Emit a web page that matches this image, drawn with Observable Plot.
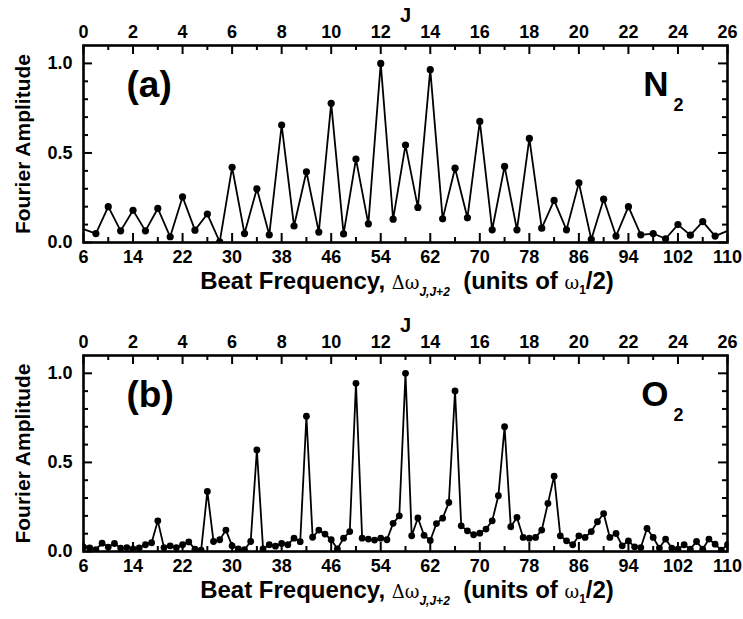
<!DOCTYPE html>
<html>
<head>
<meta charset="utf-8">
<script src="https://cdn.jsdelivr.net/npm/d3@7"></script>
<script src="https://cdn.jsdelivr.net/npm/@observablehq/plot@0.6"></script>
<style>
  body { margin: 0; background: #fff; }
  #chart { position: relative; width: 743px; height: 619px; overflow: hidden; background: #fff; }
  .panel { position: absolute; left: 0; }
  .xlab {
    position: absolute; left: 83px; width: 648px; text-align: center;
    font-family: "Liberation Sans", Arial, sans-serif; font-weight: bold; font-size: 24px;
    line-height: 18px; color: #000; white-space: nowrap;
  }
  .xlab .sym { font-weight: normal; font-size: 18px; font-family: "DejaVu Serif", "Liberation Serif", serif; }
  .xlab .sub { position: relative; top: 0.55em; font-size: 12px; font-weight: bold; font-style: italic; font-family: "Liberation Sans", Arial, sans-serif; }
  .xlab .sub1 { position: relative; top: 0.45em; font-size: 12px; font-weight: bold; font-family: "Liberation Sans", Arial, sans-serif; }
</style>
</head>
<body>
<div id="chart"></div>
<script>
// ---- axis tick values ----
const freqTicks = [6, 14, 22, 30, 38, 46, 54, 62, 70, 78, 86, 94, 102, 110];
const jMinor = [1, 3, 5, 7, 9, 11, 13, 15, 17, 19, 21, 23, 25];
const ampTicks = [0.0, 0.5, 1.0];
const ampMinor = [0.1, 0.2, 0.3, 0.4, 0.6, 0.7, 0.8, 0.9];

// ---- (a) N2 ----
const n2Freq = [6, 8, 10, 12, 14, 16, 18, 20, 22, 24, 26, 28, 30, 32, 34, 36, 38, 40, 42, 44, 46, 48, 50, 52, 54, 56,
                58, 60, 62, 64, 66, 68, 70, 72, 74, 76, 78, 80, 82, 84, 86, 88, 90, 92, 94, 96, 98, 100, 102, 104, 106, 108, 110];
const n2Amp = [0.075, 0.05, 0.20, 0.065, 0.18, 0.065, 0.19, 0.032, 0.255, 0.069, 0.159, 0.004, 0.42, 0.05, 0.30, 0.043,
               0.656, 0.092, 0.395, 0.058, 0.777, 0.048, 0.466, 0.104, 1.0, 0.13,
               0.544, 0.196, 0.965, 0.132, 0.415, 0.138, 0.676, 0.071, 0.425, 0.071, 0.581, 0.08, 0.235, 0.071,
               0.333, 0.017, 0.242, 0.036, 0.20, 0.043, 0.05, 0.021, 0.10, 0.041, 0.117, 0.036, 0.065];

// ---- (b) O2 ----
const o2Freq = [6, 7, 8, 9, 10, 11, 12, 13, 14, 15, 16, 17, 18, 19, 20, 21, 22, 23, 24, 25, 26, 27, 28, 29, 30, 31, 32,
                33, 34, 35, 36, 37, 38, 39, 40, 41, 42, 43, 44, 45, 46, 47, 48, 49, 50, 51, 52, 53, 54, 55, 56, 57, 58,
                59, 60, 61, 62, 63, 64, 65, 66, 67, 68, 69, 70, 71, 72, 73, 74, 75, 76, 77, 78, 79, 80, 81, 82, 83, 84,
                85, 86, 87, 88, 89, 90, 91, 92, 93, 94, 95, 96, 97, 98, 99, 100, 101, 102, 103, 104, 105, 106, 107, 108, 109, 110];
const o2Amp = [0.025, 0.02, 0.01, 0.047, 0.025, 0.045, 0.019, 0.022, 0.015, 0.02, 0.038, 0.049, 0.172,
               0.022, 0.032, 0.022, 0.038, 0.054, 0.013, 0.008, 0.337, 0.056, 0.066, 0.12, 0.032, 0.015, 0.01,
               0.056, 0.57, 0.015, 0.038, 0.03, 0.045, 0.038, 0.075, 0.055, 0.759, 0.08, 0.12, 0.098, 0.066, 0.015,
               0.075, 0.112, 0.944, 0.075, 0.07, 0.064, 0.075, 0.066, 0.158, 0.2, 1.0,
               0.088, 0.188, 0.091, 0.062, 0.157, 0.187, 0.275, 0.901, 0.144, 0.116, 0.094, 0.103, 0.126, 0.172,
               0.313, 0.70, 0.139, 0.191, 0.079, 0.075, 0.079, 0.12, 0.27, 0.423, 0.088, 0.06,
               0.038, 0.088, 0.079, 0.112, 0.167, 0.213, 0.079, 0.101, 0.032, 0.06, 0.026, 0.022, 0.129, 0.079,
               0.019, 0.07, 0.019, 0.013, 0.038, 0.013, 0.056, 0.013, 0.07, 0.041, 0.008, 0.038];

const W = 743, H = 309;
const mL = 83, mR = 16, mT = 45;
const jToFreq = j => 6 + 4 * j;
const tickFont = '"Liberation Sans Narrow", "Liberation Sans", Arial, sans-serif';
const mainFont = '"Liberation Sans", Arial, sans-serif';

function panel({freq, amp, tag, mol, mB, dotsAll, r}) {
  const data = freq.map((f, i) => ({f, a: amp[i]}));
  const dots = dotsAll ? data : data.filter(d => d.f > 6 && d.f < 110);
  const plotH = H - mT - mB, plotW = W - mL - mR;
  const ky = 1.1 / plotH, kx = 104 / plotW;
  const majL = 9, minL = 5;
  const minorX = jMinor.map(jToFreq);
  return Plot.plot({
    width: W, height: H,
    marginLeft: mL, marginRight: mR, marginTop: mT, marginBottom: mB,
    x: {domain: [6, 110]},
    y: {domain: [0, 1.1]},
    style: {fontFamily: mainFont, color: "#000", background: "#fff", overflow: "visible"},
    marks: [
      // inward ticks: bottom & top
      Plot.ruleX(freqTicks, {x: d => d, y1: 0, y2: majL * ky, stroke: "#000", strokeWidth: 2}),
      Plot.ruleX(minorX, {x: d => d, y1: 0, y2: minL * ky, stroke: "#000", strokeWidth: 2}),
      Plot.ruleX(freqTicks, {x: d => d, y1: 1.1, y2: 1.1 - majL * ky, stroke: "#000", strokeWidth: 2}),
      Plot.ruleX(minorX, {x: d => d, y1: 1.1, y2: 1.1 - minL * ky, stroke: "#000", strokeWidth: 2}),
      // inward ticks: left & right
      Plot.ruleY(ampTicks, {y: d => d, x1: 6, x2: 6 + majL * kx, stroke: "#000", strokeWidth: 2}),
      Plot.ruleY(ampMinor, {y: d => d, x1: 6, x2: 6 + minL * kx, stroke: "#000", strokeWidth: 2}),
      Plot.ruleY(ampTicks, {y: d => d, x1: 110, x2: 110 - majL * kx, stroke: "#000", strokeWidth: 2}),
      Plot.ruleY(ampMinor, {y: d => d, x1: 110, x2: 110 - minL * kx, stroke: "#000", strokeWidth: 2}),
      // data
      Plot.line(data, {x: "f", y: "a", stroke: "#000", strokeWidth: 1.8}),
      Plot.dot(dots, {x: "f", y: "a", r, fill: "#000", stroke: null, clip: true}),
      Plot.frame({stroke: "#000", strokeWidth: 2.6}),
      // axes
      Plot.axisX(freqTicks, {anchor: "bottom", tickSize: 0, tickPadding: 7.5, label: null,
        fontSize: 18, fontWeight: "bold", fontFamily: tickFont}),
      Plot.axisX(freqTicks, {anchor: "top", tickSize: 0, tickPadding: 8, label: null,
        tickFormat: d => String((d - 6) / 4), fontSize: 18, fontWeight: "bold", fontFamily: tickFont}),
      Plot.axisY(ampTicks, {anchor: "left", tickSize: 0, tickPadding: 11, label: null,
        tickFormat: d => d.toFixed(1), fontSize: 18, fontWeight: "bold", fontFamily: mainFont}),
      // top axis label J
      Plot.text(["J"], {frameAnchor: "top", dy: -24, lineAnchor: "bottom", fontSize: 20,
        fontWeight: "bold", fontFamily: mainFont, fill: "#000"}),
      // y axis label
      Plot.text(["Fourier Amplitude"], {frameAnchor: "left", dx: -54, rotate: -90, lineAnchor: "bottom",
        textAnchor: "middle", fontSize: 21, fontWeight: "bold", fontFamily: mainFont, fill: "#000"}),
      // panel tag
      Plot.text([tag], {frameAnchor: "top-left", dx: 43, dy: 51, lineAnchor: "bottom", textAnchor: "start",
        fontSize: 37, fontWeight: "bold", fontFamily: mainFont, fill: "#000"}),
      // molecule
      Plot.text([mol], {frameAnchor: "top-right", dx: -59, dy: 50, lineAnchor: "bottom", textAnchor: "end",
        fontSize: 35, fontWeight: "bold", fontFamily: mainFont, fill: "#000"}),
      Plot.text(["2"], {frameAnchor: "top-right", dx: -54, dy: 65, lineAnchor: "bottom", textAnchor: "start",
        fontSize: 18, fontWeight: "bold", fontFamily: mainFont, fill: "#000"})
    ]
  });
}

const root = document.getElementById("chart");

function addPanel(top, opts, labelTop) {
  const wrap = document.createElement("div");
  wrap.className = "panel";
  wrap.style.top = top + "px";
  wrap.appendChild(panel(opts));
  root.appendChild(wrap);
  const lab = document.createElement("div");
  lab.className = "xlab";
  lab.style.top = labelTop + "px";
  lab.innerHTML = 'Beat Frequency, <span class="sym">&Delta;&omega;</span><span class="sub">J,J+2</span>' +
    '&nbsp; (units of <span class="sym">&omega;</span><span class="sub1">1</span>/2)';
  root.appendChild(lab);
}

addPanel(0, {freq: n2Freq, amp: n2Amp, tag: "(a)", mol: "N", mB: 67, dotsAll: false, r: 3.6}, 272);
addPanel(310, {freq: o2Freq, amp: o2Amp, tag: "(b)", mol: "O", mB: 68, dotsAll: true, r: 3.4}, 581);
</script>
</body>
</html>
